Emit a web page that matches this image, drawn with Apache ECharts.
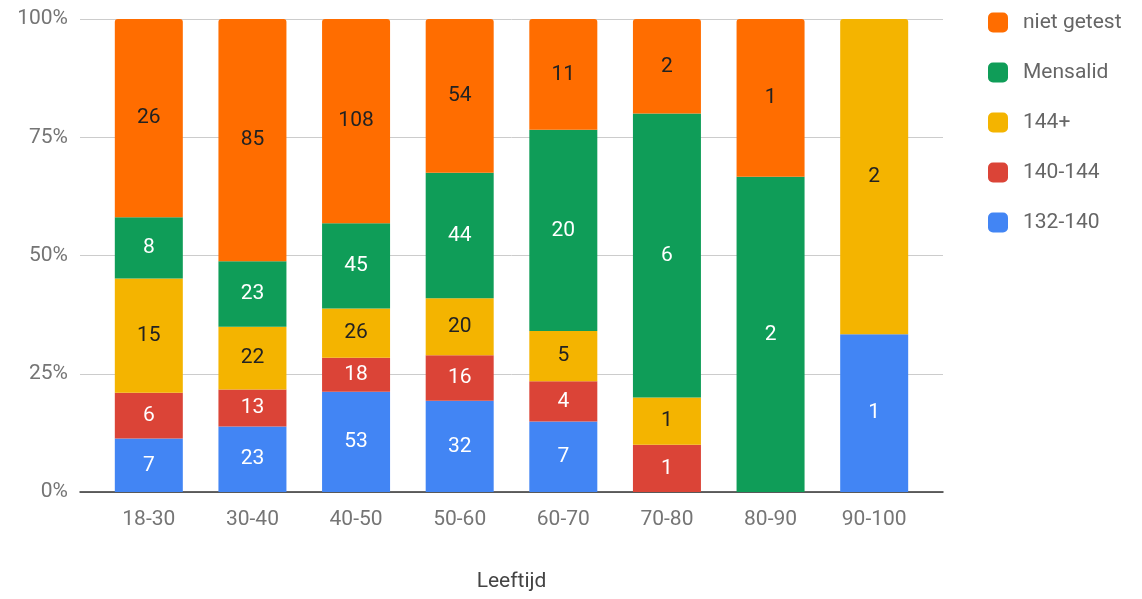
<!DOCTYPE html>
<html>
<head>
<meta charset="utf-8">
<script src="https://cdn.jsdelivr.net/npm/echarts@6/dist/echarts.min.js"></script>
<style>
html,body{margin:0;padding:0;background:#fff;}
#chart{width:1142px;height:599px;}
</style>
</head>
<body>
<div id="chart"></div>
<script>
var categories = ['18-30','30-40','40-50','50-60','60-70','70-80','80-90','90-100'];
var s132_140   = [7, 23, 53, 32, 7, 0, 0, 1];
var s140_144   = [6, 13, 18, 16, 4, 1, 0, 0];
var s144plus   = [15, 22, 26, 20, 5, 1, 0, 2];
var mensalid   = [8, 23, 45, 44, 20, 6, 2, 0];
var nietGetest = [26, 85, 108, 54, 11, 2, 1, 0];
var yTicks = [0, 25, 50, 75, 100];

var seriesDefs = [
  {name:'132-140', data:s132_140, color:'#4285F4', text:'#ffffff'},
  {name:'140-144', data:s140_144, color:'#DB4437', text:'#ffffff'},
  {name:'144+', data:s144plus, color:'#F4B400', text:'#222222'},
  {name:'Mensalid', data:mensalid, color:'#0F9D58', text:'#ffffff'},
  {name:'niet getest', data:nietGetest, color:'#FF6D00', text:'#222222'}
];

var totals = categories.map(function(c,i){
  return seriesDefs.reduce(function(s,d){return s + d.data[i];},0);
});
var topIdx = categories.map(function(c,i){
  var t = -1;
  seriesDefs.forEach(function(d,k){ if (d.data[i] > 0) t = k; });
  return t;
});

var FONT = 'Roboto, "Noto Sans", sans-serif';

var series = seriesDefs.map(function(d,k){
  return {
    name: d.name,
    type: 'bar',
    stack: 'total',
    xAxisIndex: 1,
    yAxisIndex: 1,
    barWidth: 68,
    itemStyle: {color: d.color},
    label: {
      show: true,
      position: 'inside',
      color: d.text,
      fontSize: 21,
      fontFamily: FONT,
      formatter: function(p){ return p.data.raw; }
    },
    data: d.data.map(function(v,i){
      var item = {value: totals[i] ? v / totals[i] * 100 : 0, raw: v};
      if (v === 0) item.label = {show:false};
      if (topIdx[i] === k) item.itemStyle = {borderRadius:[3,3,0,0]};
      return item;
    })
  };
});

var chart = echarts.init(document.getElementById('chart'), null, {renderer:'canvas'});
chart.setOption({
  animation: false,
  backgroundColor: '#ffffff',
  textStyle: {fontFamily: FONT},
  grid: [
    {left: 80, right: 199, top: 19, bottom: 107, containLabel: false, outerBoundsMode: 'none'},
    {left: 97, right: 216, top: 19, bottom: 107, containLabel: false, outerBoundsMode: 'none'}
  ],
  legend: {
    orient: 'vertical',
    left: 983,
    top: 7,
    itemWidth: 20,
    itemHeight: 20,
    itemGap: 29,
    icon: 'roundRect',
    data: ['niet getest','Mensalid','144+','140-144','132-140'],
    textStyle: {fontSize: 21, color: '#666666', fontFamily: FONT, padding:[0,0,0,10]}
  },
  xAxis: [
    {
      gridIndex: 0, type: 'value', min: 0, max: 1,
      axisLine: {show: true, onZero: false, lineStyle: {color: '#333333', width: 1.5}},
      axisTick: {show: false}, axisLabel: {show: false}, splitLine: {show: false},
      name: 'Leeftijd', nameLocation: 'middle', nameGap: 79,
      nameTextStyle: {fontSize: 21, color: '#444444', fontFamily: FONT}
    },
    {
      gridIndex: 1, type: 'category', data: categories,
      axisLine: {show: false}, axisTick: {show: false},
      axisLabel: {fontSize: 21, color: '#757575', margin: 17, fontFamily: FONT}
    }
  ],
  yAxis: [
    {
      gridIndex: 0, type: 'value', min: 0, max: 100, interval: 25,
      axisLine: {show: false}, axisTick: {show: false},
      axisLabel: {
        fontSize: 21, color: '#757575', margin: 12, fontFamily: FONT,
        formatter: function(v){ return yTicks.indexOf(v) >= 0 ? v + '%' : ''; }
      },
      splitLine: {lineStyle: {color: '#cccccc', width: 1}}
    },
    {
      gridIndex: 1, type: 'value', min: 0, max: 100,
      show: false, splitLine: {show: false}
    }
  ],
  series: series
});
</script>
</body>
</html>
